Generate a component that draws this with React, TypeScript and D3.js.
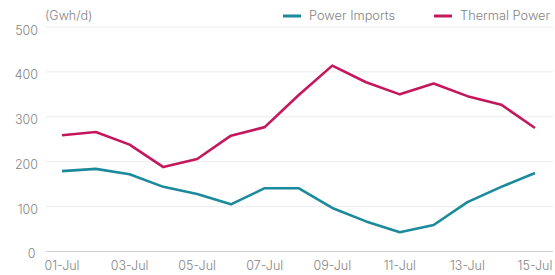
import React from "react";
import * as d3 from "d3";

const days = ["01-Jul","02-Jul","03-Jul","04-Jul","05-Jul","06-Jul","07-Jul","08-Jul","09-Jul","10-Jul","11-Jul","12-Jul","13-Jul","14-Jul","15-Jul"];
const powerImports = [179, 184, 172, 144, 128, 105, 141, 141, 97, 67, 43, 59, 110, 144, 175];
const thermalPower = [259, 266, 238, 188, 206, 258, 277, 348, 414, 377, 350, 374, 346, 327, 275];
const yTicks = [0, 100, 200, 300, 400, 500];
const xTickLabels = ["01-Jul","03-Jul","05-Jul","07-Jul","09-Jul","11-Jul","13-Jul","15-Jul"];

const W = 555, H = 275;
const TEAL = "#1b8a9c";
const MAGENTA = "#c4175c";
const TEXT = "#848484";
const FONT = "Inter, 'Noto Sans', sans-serif";

export default function App() {
  const x = d3.scalePoint<string>().domain(days).range([62, 535]);
  const y = d3.scaleLinear().domain([0, 500]).range([251.5, 27]);
  const line = d3.line<number>().x((_, i) => x(days[i])!).y((d) => y(d));

  return (
    <svg width={W} height={H} style={{ position: "absolute", left: 0, top: 0, background: "#fff" }}>
      {yTicks.map((t) => (
        <g key={t}>
          <line x1={46} x2={553} y1={y(t)} y2={y(t)} stroke={t === 0 ? "#d2d2d2" : "#ececec"} strokeWidth={1} />
          <text x={t === 0 ? 35.5 : 38} y={y(t) + (t === 0 ? 6.5 : 7.5)} textAnchor="end" fontSize={12.5} fill={TEXT} fontFamily={FONT} fontWeight={300}>{t}</text>
        </g>
      ))}
      <text x={45} y={20} fontSize={12.5} fill={TEXT} fontFamily={FONT} fontWeight={300}>(Gwh/d)</text>
      {xTickLabels.map((l) => (
        <text key={l} x={x(l)!} y={270} textAnchor="middle" fontSize={12.5} fill={TEXT} fontFamily={FONT} fontWeight={300}>{l}</text>
      ))}
      <path d={line(powerImports) || ""} fill="none" stroke={TEAL} strokeWidth={2.6} strokeLinejoin="round" />
      <path d={line(thermalPower) || ""} fill="none" stroke={MAGENTA} strokeWidth={2.6} strokeLinejoin="round" />
      <line x1={283} x2={301} y1={16} y2={16} stroke={TEAL} strokeWidth={3} />
      <text x={309} y={20} fontSize={12.8} fill={TEXT} fontFamily={FONT} fontWeight={300}>Power Imports</text>
      <line x1={434} x2={452} y1={16} y2={16} stroke={MAGENTA} strokeWidth={3} />
      <text x={460} y={20} fontSize={12.8} fill={TEXT} fontFamily={FONT} fontWeight={300}>Thermal Power</text>
    </svg>
  );
}
